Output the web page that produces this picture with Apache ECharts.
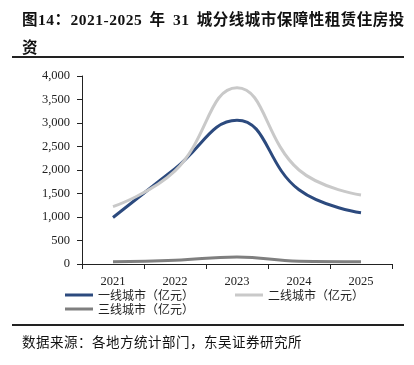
<!DOCTYPE html>
<html>
<head>
<meta charset="utf-8">
<script src="https://cdn.jsdelivr.net/npm/echarts@6/dist/echarts.min.js"></script>
<style>
  html, body { margin: 0; padding: 0; background: #fff; }
  #wrap { position: relative; width: 414px; height: 365px; overflow: hidden; }
  #title { position: absolute; left: 22px; top: 6px; white-space: nowrap; font: bold 15.5px "Liberation Serif", "Noto Sans CJK SC", serif; line-height: 28px; color: #111; letter-spacing: 0.5px; word-spacing: 3px; }
  #topRule { position: absolute; left: 12px; top: 56px; width: 392px; height: 2px; background: #222; }
  #chart { position: absolute; left: 0; top: 0; width: 414px; height: 365px; }
  #botRule { position: absolute; left: 12px; top: 324px; width: 392px; height: 2px; background: #222; }
  #source { position: absolute; left: 22px; top: 331px; font: 13.5px "Noto Sans CJK SC", sans-serif; color: #111; letter-spacing: 0.5px; }
</style>
</head>
<body>
<div id="wrap">
  <div id="chart"></div>
  <div id="title">图14：2021-2025 年 31 城分线城市保障性租赁住房投<br>资</div>
  <div id="topRule"></div>
  <div id="botRule"></div>
  <div id="source">数据来源：各地方统计部门，东吴证券研究所</div>
</div>
<script>
// 2021-2025 年 31 城各线城市保障性租赁住房投资（亿元）
const years = ["2021", "2022", "2023", "2024", "2025"];
const tier1 = [990, 2030, 3060, 1580, 1090];
const tier2 = [1220, 1980, 3750, 2000, 1470];
const tier3 = [50, 80, 150, 60, 50];
const seriesNames = ["一线城市（亿元）", "二线城市（亿元）", "三线城市（亿元）"];
const colors = ["#2C4A7E", "#C9C9C9", "#7F7F7F"];

const chart = echarts.init(document.getElementById("chart"), null, { renderer: "canvas" });

const axisFont = { fontFamily: "Liberation Serif", fontSize: 12.5, color: "#222" };
const legendText = { fontFamily: "Noto Sans CJK SC", fontSize: 12, color: "#222" };

function line(name, data, color) {
  return {
    name, type: "line", data, smooth: 0.45,
    symbol: "none",
    lineStyle: { color, width: 3 },
    itemStyle: { color },
  };
}

chart.setOption({
  animation: false,
  grid: { left: 82, right: 22, top: 76, bottom: 101 },
  legend: [
    {
      data: seriesNames.slice(0, 2), left: 60, top: 284, icon: "rect",
      itemWidth: 28, itemHeight: 3, itemGap: 41, textStyle: legendText,
    },
    {
      data: seriesNames.slice(2), left: 60, top: 298, icon: "rect",
      itemWidth: 28, itemHeight: 3, textStyle: legendText,
    },
  ],
  xAxis: {
    type: "category",
    data: years,
    boundaryGap: true,
    axisLine: { lineStyle: { color: "#222", width: 1 } },
    axisTick: { show: true, length: 5, lineStyle: { color: "#222" } },
    axisLabel: { ...axisFont, margin: 11 },
  },
  yAxis: {
    type: "value",
    min: 0, max: 4000, interval: 500,
    axisLine: { show: true, lineStyle: { color: "#222", width: 1 } },
    axisTick: { show: true, length: 5, lineStyle: { color: "#222" } },
    splitLine: { show: false },
    axisLabel: {
      ...axisFont, margin: 12,
      formatter: (v) => v.toLocaleString("en-US"),
    },
  },
  series: [
    line(seriesNames[0], tier1, colors[0]),
    line(seriesNames[1], tier2, colors[1]),
    line(seriesNames[2], tier3, colors[2]),
  ],
});
</script>
</body>
</html>
